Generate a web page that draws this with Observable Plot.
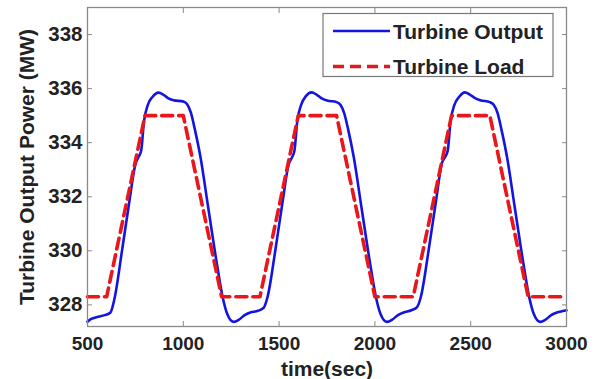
<!DOCTYPE html>
<html><head><meta charset="utf-8">
<script src="https://cdn.jsdelivr.net/npm/d3@7"></script>
<script src="https://cdn.jsdelivr.net/npm/@observablehq/plot@0.6"></script>
<style>
body{margin:0;background:#fff}
#chart{position:relative;width:599px;height:379px}
</style>
</head><body><div id="chart"></div>
<script>
// ---- data ----
const outputTime = [500,520,550,590,620,640,680,720,750,765,780,795,815,840,870,895,920,950,1000,1020,1040,1060,1090,1130,1178,1205,1230,1262,1290,1320,1350,1390,
  1420,1440,1480,1520,1550,1565,1580,1595,1615,1640,1670,1695,1720,1750,1800,1820,1840,1860,1890,1930,1978,2005,2030,2062,2090,2120,2150,2190,
  2220,2240,2280,2320,2350,2365,2380,2395,2415,2440,2470,2495,2520,2550,2600,2620,2640,2660,2690,2730,2778,2805,2830,2862,2890,2920,2950,2980,3000];
const outputPower = [327.38,327.48,327.55,327.62,327.72,328.2,330.0,331.9,333.2,333.45,333.7,334.8,335.4,335.7,335.85,335.78,335.65,335.57,335.52,335.42,335.1,334.5,333.45,331.6,329.4,328.3,327.65,327.37,327.45,327.62,327.72,327.78,
  327.9,328.3,330.0,331.9,333.2,333.42,333.7,334.8,335.4,335.72,335.86,335.78,335.65,335.56,335.5,335.4,335.08,334.5,333.45,331.6,329.4,328.3,327.65,327.37,327.45,327.62,327.72,327.8,
  327.92,328.3,330.0,331.9,333.25,333.45,333.7,334.8,335.4,335.7,335.86,335.78,335.66,335.57,335.5,335.4,335.1,334.5,333.45,331.6,329.4,328.3,327.65,327.37,327.45,327.62,327.72,327.77,327.8];
const loadTime  = [500,600,800,1000,1200,1400,1600,1800,2000,2200,2400,2600,2800,3000];
const loadPower = [328.3,328.3,335,335,328.3,328.3,335,335,328.3,328.3,335,335,328.3,328.3];
const xTicks = [500,1000,1500,2000,2500,3000];
const yTicks = [328,330,332,334,336,338];
const seriesNames = ["Turbine Output","Turbine Load"];
const xLabel = "time(sec)";
const yLabel = "Turbine Output Power (MW)";

// ---- build ----
const BLUE = "#1414e0", RED = "#e8171b", GRAY = "#8a8a8a", TXT = "#222";
const FONT = "'Liberation Sans', Arial, sans-serif";
const outputData = outputTime.map((t,i)=>({t, p: outputPower[i]}));
const loadData = loadTime.map((t,i)=>({t, p: loadPower[i]}));

const plot = Plot.plot({
  width: 599, height: 379,
  marginLeft: 87, marginRight: 33, marginTop: 7, marginBottom: 53,
  style: {fontFamily: FONT, fontWeight: "bold", background: "#fff", color: TXT},
  x: {domain: [500, 3000]},
  y: {domain: [327.2, 339]},
  marks: [
    Plot.line(outputData, {x: "t", y: "p", stroke: BLUE, strokeWidth: 2.6, curve: "monotone-x"}),
    Plot.line(loadData, {x: "t", y: "p", stroke: RED, strokeWidth: 3.6, strokeDasharray: "11,6"}),
    Plot.frame({stroke: GRAY, strokeWidth: 1.3}),
    Plot.axisX({ticks: xTicks, anchor: "bottom", tickSize: -5, tickPadding: 15, tickFormat: d => String(d), fontSize: 19, stroke: GRAY, fill: TXT, label: null}),
    Plot.axisX({ticks: xTicks, anchor: "top", tickSize: -5, tickFormat: () => "", stroke: GRAY, label: null}),
    Plot.axisY({ticks: yTicks, anchor: "left", tickSize: -5, tickPadding: 10, tickFormat: d => String(d), fontSize: 20.5, stroke: GRAY, fill: TXT, label: null}),
    Plot.axisY({ticks: yTicks, anchor: "right", tickSize: -5, tickFormat: () => "", stroke: GRAY, label: null}),
    Plot.text([yLabel], {frameAnchor: "left", textAnchor: "middle", lineAnchor: "middle", dx: -60, rotate: -90, fontSize: 21, fill: TXT, text: d => d}),
    Plot.text([xLabel], {frameAnchor: "bottom", textAnchor: "middle", lineAnchor: "middle", dy: 43, fontSize: 21, fill: TXT, text: d => d})
  ]
});
document.getElementById("chart").appendChild(plot);

// ---- legend (inside the axes, upper right) ----
const svg = d3.select(plot);
const lg = svg.append("g").attr("font-family", FONT).attr("font-weight", "bold").attr("text-anchor", "start");
lg.append("rect").attr("x", 323).attr("y", 13.5).attr("width", 230).attr("height", 63)
  .attr("fill", "#fff").attr("stroke", "#777").attr("stroke-width", 1.2);
const rows = [{name: seriesNames[0], color: BLUE, w: 2.6, dash: null, y: 31},
              {name: seriesNames[1], color: RED, w: 3.6, dash: "11,6", y: 66.5}];
rows.forEach(r => {
  lg.append("line").attr("x1", 333).attr("x2", 390).attr("y1", r.y).attr("y2", r.y)
    .attr("stroke", r.color).attr("stroke-width", r.w).attr("stroke-dasharray", r.dash);
  lg.append("text").attr("x", 393).attr("y", r.y).attr("dy", "0.36em").attr("font-size", 21)
    .attr("text-anchor", "start").attr("fill", TXT).text(r.name);
});
</script>
</body></html>
